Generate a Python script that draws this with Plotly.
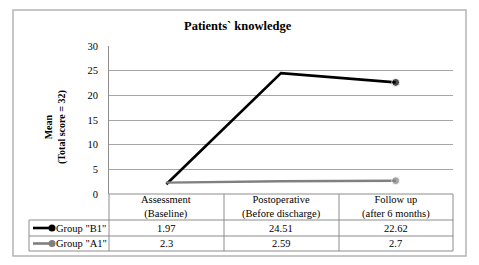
import plotly.graph_objects as go

categories = ["Assessment<br>(Baseline)", "Postoperative<br>(Before discharge)", "Follow up<br>(after 6 months)"]
group_b1 = [1.97, 24.51, 22.62]
group_a1 = [2.3, 2.59, 2.7]
b1_labels = ["1.97", "24.51", "22.62"]
a1_labels = ["2.3", "2.59", "2.7"]
series_names = ['Group "B1"', 'Group "A1"']
y_ticks = [0, 5, 10, 15, 20, 25, 30]

W, H = 479, 265
L, R, T, B = 109, 453, 46, 194
PW, PH = R - L, B - T


def px(xp):
    return (xp - L) / PW


def py(yp):
    return (B - yp) / PH


FONT = "Liberation Serif, Times New Roman, serif"
GRID = "#a6a6a6"
TBL = "#8c8c8c"
BLACK = "#000000"
GRAY = "#808080"

xs = list(range(len(categories)))

fig = go.Figure()
fig.add_trace(go.Scatter(x=xs, y=group_b1, mode="lines+markers", name=series_names[0],
                         line=dict(color=BLACK, width=2.6),
                         marker=dict(size=[0, 0, 8], color=BLACK), cliponaxis=False))
fig.add_trace(go.Scatter(x=xs, y=group_a1, mode="lines+markers", name=series_names[1],
                         line=dict(color=GRAY, width=2.4),
                         marker=dict(size=[0, 0, 8], color=GRAY), cliponaxis=False))

shapes = []
# outer border
shapes.append(dict(type="rect", xref="paper", yref="paper", x0=px(13), x1=px(466), y0=py(10), y1=py(256),
                   line=dict(color="#b4b4b4", width=1.5), layer="below"))
# table grid
for xv in [109, 224, 339, 453]:
    shapes.append(dict(type="line", xref="paper", yref="paper", x0=px(xv), x1=px(xv), y0=py(194), y1=py(251),
                       line=dict(color=TBL, width=1)))
shapes.append(dict(type="line", xref="paper", yref="paper", x0=px(29), x1=px(29), y0=py(220), y1=py(251),
                   line=dict(color=TBL, width=1)))
for yv in [220, 236, 251]:
    shapes.append(dict(type="line", xref="paper", yref="paper", x0=px(29), x1=px(453), y0=py(yv), y1=py(yv),
                       line=dict(color=TBL, width=1)))
shapes.append(dict(type="line", xref="paper", yref="paper", x0=px(109), x1=px(453), y0=py(194), y1=py(194),
                   line=dict(color=TBL, width=1)))
# legend samples
for yv, col in [(228, BLACK), (243.5, GRAY)]:
    shapes.append(dict(type="line", xref="paper", yref="paper", x0=px(33), x1=px(52), y0=py(yv), y1=py(yv),
                       line=dict(color=col, width=2.6)))
    shapes.append(dict(type="circle", xref="paper", yref="paper", x0=px(48.5), x1=px(55.5),
                       y0=py(yv + 3.5), y1=py(yv - 3.5), fillcolor=col, line=dict(color=col, width=0)))

ann = []


def add(text, x, y, xref="paper", xanchor="center", angle=0, size=10.5):
    ann.append(dict(text=text, xref=xref, yref="paper", x=x, y=y, xanchor=xanchor, yanchor="middle",
                    showarrow=False, textangle=angle, font=dict(family=FONT, size=size, color="#000")))


add("<b>Patients` knowledge</b>", px(238), py(26), size=12.5)
add("<b>Mean<br>(Total score = 32)</b>", px(55), py(127), angle=-90, size=10)
for i, c in enumerate(categories):
    add(c, xs[i], py(207), xref="x")
    add(b1_labels[i], xs[i], py(228), xref="x")
    add(a1_labels[i], xs[i], py(243.5), xref="x")
for name, yv in zip(series_names, [228, 243.5]):
    add(name, px(54), py(yv), xanchor="left")

fig.update_layout(
    width=W, height=H,
    margin=dict(l=L, r=W - R, t=T, b=H - B, pad=0),
    paper_bgcolor="white", plot_bgcolor="white",
    showlegend=False,
    xaxis=dict(range=[-0.5, 2.5], showticklabels=False, showgrid=False, zeroline=False, ticks=""),
    yaxis=dict(range=[0, 30], tickvals=y_ticks, showgrid=True, gridcolor=GRID, gridwidth=1,
               zeroline=False, showline=True, linecolor=TBL, linewidth=1, ticks="",
               tickfont=dict(family=FONT, size=10.5, color="#000"), ticklabelstandoff=8),
    shapes=shapes, annotations=ann,
)

fig.write_html("out.html")
